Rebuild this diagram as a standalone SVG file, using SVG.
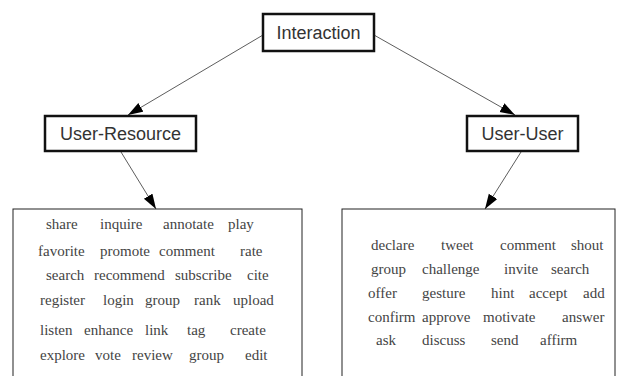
<svg xmlns="http://www.w3.org/2000/svg" width="625" height="376" viewBox="0 0 625 376">
<style>
.node{fill:#fff;stroke:#111;stroke-width:2.5}
.box{fill:#fff;stroke:#222;stroke-width:1}
.lbl{font-family:"Liberation Sans",Arial,sans-serif;font-size:18px;fill:#333;text-anchor:middle}
.w{font-size:15px;fill:#444}
.edge{stroke:#333;stroke-width:0.8;fill:none;marker-end:url(#ah)}
</style>
<defs>
<marker id="ah" markerUnits="userSpaceOnUse" markerWidth="16" markerHeight="12" refX="15" refY="5" orient="auto">
<path d="M0,0 L15,5 L0,10 z" fill="#000"/>
</marker>
</defs>
<rect width="625" height="376" fill="#fff"/>
<g id="connectors">
<line class="edge" x1="263" y1="35" x2="128" y2="115"/>
<line class="edge" x1="374" y1="35" x2="515" y2="115"/>
<line class="edge" x1="121" y1="152" x2="156" y2="209"/>
<line class="edge" x1="521" y1="152" x2="485" y2="209"/>
</g>
<g id="interaction">
<rect class="node" x="263" y="14" width="111" height="37"/>
<text class="lbl" x="318.5" y="39">Interaction</text>
</g>
<g id="user-resource">
<rect class="node" x="45" y="116" width="151" height="35"/>
<text class="lbl" x="120.5" y="140">User-Resource</text>
</g>
<g id="user-user">
<rect class="node" x="467" y="116" width="111" height="35"/>
<text class="lbl" x="522.5" y="140">User-User</text>
</g>
<g id="resource-actions" font-family="'Liberation Serif', 'Times New Roman', 'DejaVu Serif', serif">
<rect class="box" x="13" y="209" width="289" height="175"/>
<text class="w" y="229"><tspan x="46">share</tspan><tspan x="100">inquire</tspan><tspan x="163">annotate</tspan><tspan x="228">play</tspan></text>
<text class="w" y="256"><tspan x="38">favorite</tspan><tspan x="100">promote</tspan><tspan x="159">comment</tspan><tspan x="240">rate</tspan></text>
<text class="w" y="280"><tspan x="46">search</tspan><tspan x="94">recommend</tspan><tspan x="175">subscribe</tspan><tspan x="247">cite</tspan></text>
<text class="w" y="305"><tspan x="40">register</tspan><tspan x="103">login</tspan><tspan x="145">group</tspan><tspan x="194">rank</tspan><tspan x="233">upload</tspan></text>
<text class="w" y="335"><tspan x="40">listen</tspan><tspan x="84">enhance</tspan><tspan x="145">link</tspan><tspan x="187">tag</tspan><tspan x="230">create</tspan></text>
<text class="w" y="360"><tspan x="40">explore</tspan><tspan x="95">vote</tspan><tspan x="132">review</tspan><tspan x="189">group</tspan><tspan x="245">edit</tspan></text>
</g>
<g id="user-actions" font-family="'Liberation Serif', 'Times New Roman', 'DejaVu Serif', serif">
<rect class="box" x="342" y="209" width="273" height="175"/>
<text class="w" y="250"><tspan x="371">declare</tspan><tspan x="441">tweet</tspan><tspan x="500">comment</tspan><tspan x="571">shout</tspan></text>
<text class="w" y="274"><tspan x="371">group</tspan><tspan x="422">challenge</tspan><tspan x="504">invite</tspan><tspan x="551">search</tspan></text>
<text class="w" y="298"><tspan x="368">offer</tspan><tspan x="422">gesture</tspan><tspan x="491">hint</tspan><tspan x="529">accept</tspan><tspan x="583">add</tspan></text>
<text class="w" y="322"><tspan x="368">confirm</tspan><tspan x="422">approve</tspan><tspan x="483">motivate</tspan><tspan x="562">answer</tspan></text>
<text class="w" y="345"><tspan x="376">ask</tspan><tspan x="422">discuss</tspan><tspan x="491">send</tspan><tspan x="540">affirm</tspan></text>
</g>
</svg>
